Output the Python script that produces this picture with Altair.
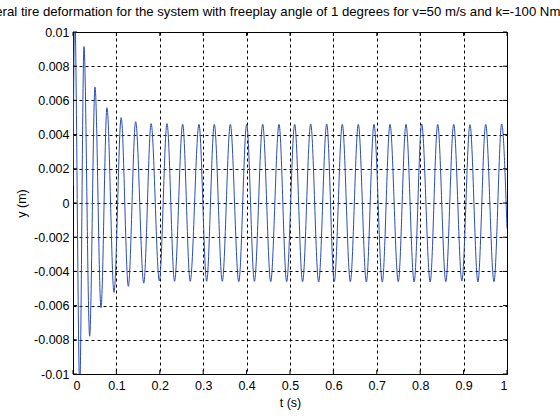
import altair as alt
import pandas as pd

# extrema of the response (time in s, deflection in m)
t_pts = [0.0, 0.004, 0.0155, 0.0253, 0.0384, 0.0507, 0.0645, 0.0783, 0.0945, 0.111,
         0.1275, 0.1444, 0.163, 0.180, 0.199, 0.2166, 0.234, 0.2527, 0.270, 0.2903,
         0.308, 0.3256, 0.344, 0.3625, 0.382, 0.4002, 0.418, 0.4371, 0.4555, 0.4747,
         0.4923, 0.5108, 0.529, 0.5477, 0.566, 0.5846, 0.602, 0.6205, 0.639, 0.6574,
         0.676, 0.6935, 0.7127, 0.7304, 0.7495, 0.7673, 0.786, 0.8034, 0.823, 0.8403,
         0.859, 0.8772, 0.896, 0.9147, 0.933, 0.9509, 0.970, 0.9878, 1.0]
y_pts = [0.0010, 0.0112, -0.0108, 0.00915, -0.00779, 0.00678, -0.00612, 0.00557, -0.00522, 0.00499,
         -0.00487, 0.00475, -0.00469, 0.00464, -0.00456, 0.00464, -0.00458, 0.00460, -0.00458, 0.00460,
         -0.00458, 0.00460, -0.00458, 0.00460, -0.00460, 0.00460, -0.00458, 0.00460, -0.00460, 0.00460,
         -0.00460, 0.00460, -0.00460, 0.00462, -0.00462, 0.00462, -0.00460, 0.00460, -0.00460, 0.00460,
         -0.00462, 0.00460, -0.00462, 0.00460, -0.00460, 0.00460, -0.00462, 0.00462, -0.00462, 0.00460,
         -0.00460, 0.00460, -0.00456, 0.00458, -0.00462, 0.00460, -0.00460, 0.00462, -0.00150]

x_ticks = [0, 0.1, 0.2, 0.3, 0.4, 0.5, 0.6, 0.7, 0.8, 0.9, 1]
y_ticks = [-0.01, -0.008, -0.006, -0.004, -0.002, 0, 0.002, 0.004, 0.006, 0.008, 0.01]

title_text = ("Lateral tire deformation for the system with freeplay angle of 1 degrees "
              "for v=50 m/s and k=-100 Nm/rad")

W, H = 434, 342
FONT = "Liberation Sans"
FS = 12.5

df = pd.DataFrame({"t": t_pts, "y": y_pts})
dx = pd.DataFrame({"t": x_ticks})
dy = pd.DataFrame({"y": y_ticks})

xscale = alt.Scale(domain=[0, 1], nice=False, zero=False)
yscale = alt.Scale(domain=[-0.01, 0.01], nice=False, zero=False)

label_expr = "replace(format(datum.value, '~g'), '\u2212', '-')"

xaxis = alt.Axis(values=x_ticks, labelExpr=label_expr, ticks=False, domain=False,
                 grid=True, gridDash=[3, 3], gridColor="black", gridOpacity=1, gridWidth=1,
                 labelFont=FONT, labelFontSize=FS, labelColor="black", labelPadding=5,
                 titleFont=FONT, titleFontSize=FS, titleFontWeight="normal", titleColor="black",
                 titlePadding=5)
yaxis = alt.Axis(values=y_ticks, labelExpr=label_expr, ticks=False, domain=False,
                 grid=True, gridDash=[3, 3], gridColor="black", gridOpacity=1, gridWidth=1,
                 labelFont=FONT, labelFontSize=FS, labelColor="black", labelPadding=4,
                 titleFont=FONT, titleFontSize=FS, titleFontWeight="normal", titleColor="black",
                 titlePadding=5)

X = lambda: alt.X("t:Q", scale=xscale, title="t (s)", axis=xaxis)
Y = lambda: alt.Y("y:Q", scale=yscale, title="y (m)", axis=yaxis)

line = alt.Chart(df).mark_line(color="#2b4cb6", strokeWidth=1, interpolate="monotone", clip=True).encode(
    x=X(), y=Y())

tick_len = 4
xt_bottom = alt.Chart(dx).mark_rule(color="black", strokeWidth=1).encode(
    x=X(), y=alt.value(H), y2=alt.value(H - tick_len))
xt_top = alt.Chart(dx).mark_rule(color="black", strokeWidth=1).encode(
    x=X(), y=alt.value(0), y2=alt.value(tick_len))
yt_left = alt.Chart(dy).mark_rule(color="black", strokeWidth=1).encode(
    y=Y(), x=alt.value(0), x2=alt.value(tick_len))
yt_right = alt.Chart(dy).mark_rule(color="black", strokeWidth=1).encode(
    y=Y(), x=alt.value(W), x2=alt.value(W - tick_len))

chart = alt.layer(line, xt_bottom, xt_top, yt_left, yt_right).properties(
    width=W, height=H,
    autosize="none",
    padding={"left": 73, "top": 32, "right": 53, "bottom": 46},
    background="white",
    title=alt.TitleParams(title_text, font=FONT, fontSize=13.2, fontWeight="normal", color="black",
                          anchor="middle", offset=7, dx=-10),
).configure_view(stroke="black", strokeWidth=1)

chart.save("out.html", embed_options={"renderer": "svg", "actions": False})
